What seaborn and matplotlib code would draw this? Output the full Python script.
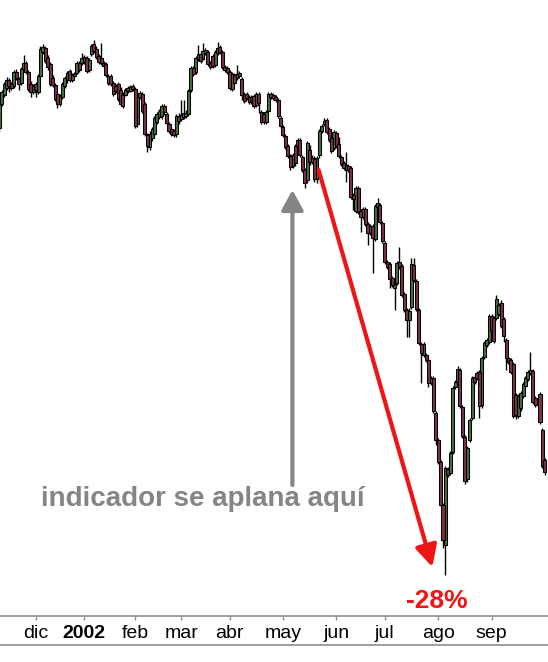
"""
Candlestick chart, Nov 2001 - Sep 2002, with the "indicator flattens" note
and the -28% fall that followed.
"""

import matplotlib

matplotlib.use("Agg")

import matplotlib.pyplot as plt
import numpy as np
import pandas as pd
import seaborn as sns
from matplotlib.lines import Line2D


# ---------------------------------------------------------------------------
# Data: daily candles per month as (open, high, low, close), index points
# ---------------------------------------------------------------------------

NOV_2001 = [
    (1472, 1500, 1468, 1496), (1496, 1510, 1494, 1508), (1505, 1518, 1503, 1516),
    (1512, 1523, 1510, 1520), (1520, 1522, 1508, 1514), (1516, 1518, 1510, 1512),
    (1514, 1530, 1512, 1528), (1528, 1531, 1520, 1522), (1521, 1523, 1510, 1516),
    (1517, 1533, 1515, 1531), (1531, 1545, 1529, 1537), (1537, 1539, 1526, 1528),
    (1528, 1530, 1509, 1511), (1516, 1519, 1503, 1508), (1508, 1516, 1506, 1514),
]

DIC_2001 = [
    (1516, 1518, 1503, 1510), (1508, 1526, 1506, 1524), (1524, 1554, 1522, 1551),
    (1548, 1556, 1546, 1553), (1552, 1554, 1537, 1539), (1542, 1545, 1530, 1533),
    (1536, 1538, 1514, 1516), (1522, 1525, 1513, 1515), (1515, 1517, 1499, 1501),
    (1506, 1508, 1492, 1496), (1496, 1506, 1494, 1504), (1503, 1518, 1501, 1516),
    (1514, 1524, 1512, 1522), (1520, 1529, 1517, 1527), (1529, 1531, 1518, 1520),
    (1520, 1527, 1518, 1525), (1524, 1528, 1522, 1526), (1527, 1539, 1526, 1537),
    (1537, 1539, 1528, 1530), (1537, 1547, 1535, 1542),
]

ENE_2002 = [
    (1543, 1545, 1536, 1538), (1542, 1544, 1527, 1529), (1530, 1542, 1528, 1540),
    (1546, 1556, 1544, 1554), (1556, 1560, 1547, 1549), (1551, 1554, 1541, 1543),
    (1544, 1546, 1536, 1538), (1542, 1557, 1535, 1537), (1537, 1539, 1533, 1534),
    (1536, 1538, 1523, 1525), (1517, 1526, 1515, 1524), (1524, 1526, 1514, 1516),
    (1517, 1519, 1504, 1506), (1514, 1516, 1507, 1509), (1516, 1518, 1499, 1501),
    (1510, 1513, 1494, 1496), (1505, 1508, 1492, 1494), (1505, 1512, 1504, 1510),
    (1512, 1514, 1507, 1509), (1509, 1515, 1508, 1513), (1514, 1516, 1509, 1511),
]

FEB_2002 = [
    (1511, 1513, 1472, 1474), (1476, 1508, 1473, 1506), (1503, 1509, 1501, 1507),
    (1506, 1508, 1487, 1489), (1496, 1498, 1464, 1466), (1465, 1467, 1448, 1454),
    (1453, 1469, 1450, 1466), (1462, 1473, 1459, 1471), (1466, 1484, 1464, 1482),
    (1478, 1488, 1476, 1486), (1483, 1491, 1481, 1489), (1484, 1496, 1481, 1494),
    (1494, 1496, 1485, 1488), (1486, 1488, 1475, 1477), (1476, 1478, 1467, 1469),
    (1471, 1473, 1464, 1466), (1469, 1471, 1463, 1465), (1466, 1486, 1463, 1484),
    (1484, 1487, 1476, 1479),
]

MAR_2002 = [
    (1481, 1500, 1479, 1485), (1483, 1500, 1481, 1487), (1484, 1490, 1482, 1487),
    (1486, 1511, 1484, 1509), (1510, 1534, 1508, 1532), (1532, 1534, 1524, 1526),
    (1528, 1544, 1526, 1542), (1541, 1555, 1539, 1546), (1546, 1548, 1537, 1539),
    (1541, 1557, 1540, 1549), (1547, 1552, 1545, 1550), (1548, 1550, 1534, 1536),
    (1537, 1539, 1531, 1533), (1544, 1546, 1532, 1534), (1535, 1550, 1533, 1548),
    (1547, 1558, 1545, 1552), (1553, 1555, 1546, 1548), (1548, 1550, 1531, 1533),
    (1533, 1535, 1528, 1530), (1532, 1534, 1526, 1528),
]

ABR_2002 = [
    (1528, 1530, 1510, 1512), (1511, 1528, 1509, 1526), (1525, 1527, 1515, 1517),
    (1522, 1535, 1520, 1526), (1527, 1529, 1522, 1524), (1521, 1523, 1500, 1505),
    (1506, 1508, 1497, 1499), (1506, 1508, 1500, 1502), (1503, 1505, 1496, 1498),
    (1503, 1505, 1496, 1499), (1504, 1506, 1492, 1494), (1495, 1508, 1493, 1506),
    (1506, 1508, 1487, 1497), (1488, 1490, 1476, 1478), (1486, 1488, 1476, 1478),
    (1478, 1490, 1476, 1488), (1489, 1508, 1487, 1506), (1506, 1508, 1501, 1503),
    (1505, 1507, 1500, 1502), (1503, 1505, 1498, 1500), (1500, 1502, 1482, 1484),
    (1482, 1484, 1472, 1474),
]

MAY_2002 = [
    (1473, 1475, 1463, 1465), (1464, 1466, 1451, 1453), (1454, 1456, 1442, 1444),
    (1444, 1446, 1430, 1433), (1434, 1447, 1432, 1445), (1454, 1456, 1434, 1437),
    (1448, 1462, 1446, 1460), (1460, 1462, 1443, 1445), (1443, 1445, 1428, 1430),
    (1430, 1432, 1412, 1417), (1420, 1459, 1417, 1457), (1450, 1455, 1435, 1438),
    (1438, 1445, 1436, 1442), (1441, 1444, 1418, 1421), (1421, 1444, 1417, 1442),
    (1445, 1471, 1442, 1469), (1469, 1476, 1467, 1474), (1476, 1482, 1474, 1479),
    (1480, 1482, 1466, 1468), (1471, 1473, 1458, 1460), (1462, 1464, 1447, 1449),
    (1452, 1470, 1450, 1468),
]

JUN_2002 = [
    (1467, 1469, 1452, 1454), (1456, 1463, 1442, 1444), (1443, 1445, 1434, 1436),
    (1437, 1439, 1430, 1432), (1435, 1448, 1418, 1430), (1434, 1436, 1428, 1430),
    (1432, 1434, 1401, 1403), (1405, 1407, 1390, 1401), (1389, 1414, 1387, 1412),
    (1412, 1414, 1386, 1388), (1389, 1391, 1368, 1383), (1383, 1393, 1381, 1391),
    (1391, 1393, 1374, 1376), (1376, 1378, 1355, 1367), (1367, 1376, 1365, 1374),
    (1374, 1376, 1327, 1362), (1361, 1396, 1359, 1394), (1393, 1402, 1391, 1397),
    (1395, 1397, 1376, 1378), (1377, 1379, 1357, 1359),
]

JUL_2002 = [
    (1357, 1359, 1336, 1338), (1338, 1340, 1331, 1333), (1336, 1338, 1312, 1321),
    (1322, 1324, 1313, 1315), (1312, 1318, 1290, 1316), (1317, 1339, 1315, 1337),
    (1338, 1353, 1331, 1333), (1334, 1336, 1303, 1305), (1306, 1308, 1288, 1290),
    (1290, 1292, 1263, 1280), (1280, 1292, 1263, 1289), (1293, 1342, 1291, 1336),
    (1335, 1342, 1318, 1320), (1319, 1321, 1289, 1291), (1290, 1292, 1255, 1257),
    (1256, 1258, 1217, 1247), (1245, 1258, 1243, 1256), (1245, 1247, 1238, 1240),
    (1240, 1242, 1213, 1217), (1217, 1224, 1215, 1222), (1222, 1224, 1187, 1189),
    (1187, 1189, 1155, 1160),
]

AGO_2002 = [
    (1160, 1162, 1136, 1138), (1138, 1140, 1093, 1095), (1095, 1097, 1052, 1060),
    (1055, 1134, 1025, 1132), (1131, 1133, 1123, 1125), (1127, 1149, 1125, 1147),
    (1148, 1214, 1146, 1212), (1213, 1220, 1211, 1218), (1218, 1234, 1216, 1231),
    (1230, 1232, 1192, 1194), (1193, 1195, 1162, 1164), (1163, 1165, 1116, 1119),
    (1121, 1154, 1118, 1152), (1160, 1182, 1158, 1180), (1182, 1224, 1180, 1222),
    (1223, 1225, 1216, 1218), (1227, 1229, 1220, 1222), (1228, 1230, 1182, 1194),
    (1195, 1244, 1192, 1242), (1243, 1259, 1241, 1257), (1255, 1262, 1253, 1260),
    (1258, 1286, 1256, 1284),
]

SEP_2002 = [
    (1284, 1286, 1267, 1269), (1282, 1284, 1257, 1259), (1282, 1305, 1280, 1301),
    (1286, 1297, 1284, 1295), (1297, 1300, 1272, 1274), (1281, 1283, 1258, 1264),
    (1260, 1262, 1230, 1242), (1242, 1244, 1236, 1238), (1240, 1242, 1226, 1228),
    (1236, 1238, 1182, 1184), (1205, 1207, 1181, 1185), (1184, 1206, 1182, 1204),
    (1192, 1209, 1189, 1207), (1204, 1218, 1202, 1216), (1214, 1224, 1212, 1222),
    (1221, 1230, 1219, 1228), (1227, 1248, 1225, 1230), (1229, 1231, 1196, 1198),
    (1202, 1204, 1193, 1195), (1195, 1202, 1193, 1200), (1206, 1208, 1176, 1178),
    (1170, 1172, 1132, 1134), (1140, 1142, 1125, 1128),
]

MONTHS = [
    ("nov", NOV_2001),
    ("dic", DIC_2001),
    ("2002", ENE_2002),
    ("feb", FEB_2002),
    ("mar", MAR_2002),
    ("abr", ABR_2002),
    ("may", MAY_2002),
    ("jun", JUN_2002),
    ("jul", JUL_2002),
    ("ago", AGO_2002),
    ("sep", SEP_2002),
]

FLAT_NOTE = "indicador se aplana aquí"
DROP_NOTE = "-28%"


# ---------------------------------------------------------------------------
# Plot settings
# ---------------------------------------------------------------------------

UP_COLOR = "#476d3d"
DOWN_COLOR = "#7c2f47"
AXIS_GRAY = "#8a9098"
NOTE_GRAY = "#858585"
NOTE_RED = "#f01414"

sns.set_theme(style="white")
plt.rcParams["font.family"] = ["Liberation Sans", "DejaVu Sans"]


def build_frame() -> pd.DataFrame:
    rows = []
    for label, candles in MONTHS:
        for o, h, l, c in candles:
            rows.append((label, o, h, l, c))
    df = pd.DataFrame(rows, columns=["month", "open", "high", "low", "close"])
    df["x"] = np.arange(len(df))
    return df


def plot_candles(ax, df: pd.DataFrame) -> None:
    up = df["close"] >= df["open"]
    down = ~up

    ax.vlines(df["x"], df["low"], df["high"], color="black", lw=1.0, zorder=1)
    ax.bar(
        df.loc[up, "x"],
        df.loc[up, "close"] - df.loc[up, "open"],
        bottom=df.loc[up, "open"],
        width=1.25,
        color=UP_COLOR,
        edgecolor="black",
        linewidth=0.75,
        zorder=2,
    )
    ax.bar(
        df.loc[down, "x"],
        df.loc[down, "open"] - df.loc[down, "close"],
        bottom=df.loc[down, "close"],
        width=1.25,
        color=DOWN_COLOR,
        edgecolor="black",
        linewidth=0.75,
        zorder=2,
    )


def main() -> None:
    df = build_frame()

    fig = plt.figure(figsize=(5.48, 6.62), dpi=100)
    ax = fig.add_axes([0, 46 / 662, 1, 616 / 662])

    plot_candles(ax, df)

    ax.set_xlim(0.3, 226.3)
    ax.set_ylim(984, 1600)
    ax.set_yticks([])

    # month ticks on the first trading day of each month
    starts = df.groupby("month", sort=False)["x"].min().drop("nov")
    ax.set_xticks(starts.values, starts.index)
    ax.tick_params(
        axis="x", direction="out", length=3, width=1, color=AXIS_GRAY,
        pad=3.5, labelsize=14, labelcolor="black", bottom=True,
    )
    for label in ax.get_xticklabels():
        if label.get_text() == "2002":
            label.set_fontweight("bold")

    for side in ["top", "left", "right"]:
        ax.spines[side].set_visible(False)
    ax.spines["bottom"].set_color(AXIS_GRAY)
    ax.spines["bottom"].set_linewidth(1.2)
    ax.grid(False)

    fig.add_artist(Line2D([0, 1], [17 / 662, 17 / 662], color=AXIS_GRAY, lw=1.2))

    # notes
    ax.annotate(
        "", xy=(120.9, 1410), xytext=(120.9, 1115),
        arrowprops=dict(
            arrowstyle="-|>,head_length=0.6,head_width=0.33",
            mutation_scale=20, color=NOTE_GRAY, lw=3, shrinkA=0, shrinkB=0,
        ),
    )
    ax.text(
        84.0, 1101, FLAT_NOTE, ha="center", va="center",
        fontsize=20, fontweight="bold", color=NOTE_GRAY,
    )
    ax.annotate(
        "", xy=(178.6, 1033), xytext=(131.7, 1430),
        arrowprops=dict(
            arrowstyle="-|>,head_length=0.65,head_width=0.33",
            mutation_scale=20, color=NOTE_RED, lw=3, shrinkA=0, shrinkB=0,
        ),
    )
    ax.text(
        180.3, 999, DROP_NOTE, ha="center", va="center",
        fontsize=19, fontweight="bold", color=NOTE_RED,
    )

    fig.savefig("out.png", dpi=100)
    plt.close(fig)


if __name__ == "__main__":
    main()
